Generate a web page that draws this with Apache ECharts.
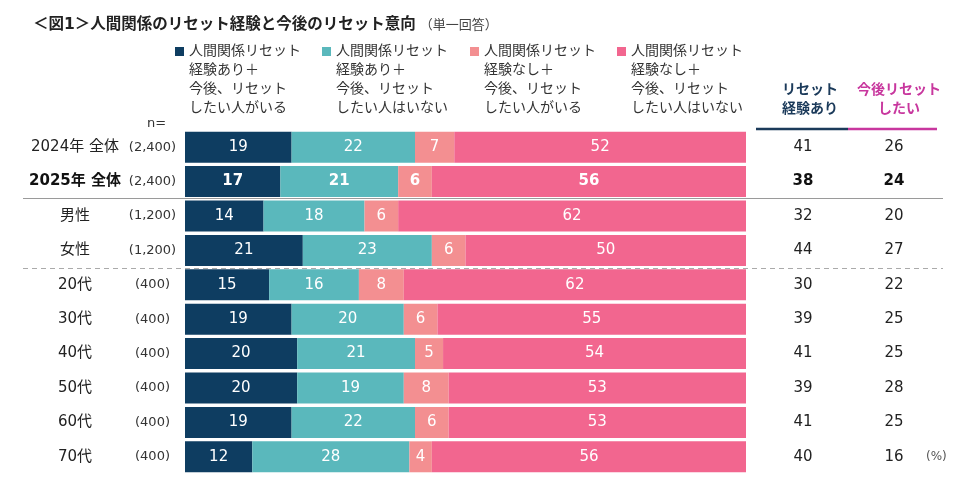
<!DOCTYPE html>
<html><head><meta charset="utf-8">
<script src="https://cdn.jsdelivr.net/npm/echarts@6/dist/echarts.min.js"></script>
<style>html,body{margin:0;padding:0;background:#fff}#c{width:965px;height:484px}</style>
</head><body><div id="c"></div>
<script>
const categories = ['2024年 全体','2025年 全体','男性','女性','20代','30代','40代','50代','60代','70代'];
const sampleSizes = ['(2,400)','(2,400)','(1,200)','(1,200)','(400)','(400)','(400)','(400)','(400)','(400)'];
const seriesNames = ['人間関係リセット\n経験あり＋\n今後、リセット\nしたい人がいる','人間関係リセット\n経験あり＋\n今後、リセット\nしたい人はいない','人間関係リセット\n経験なし＋\n今後、リセット\nしたい人がいる','人間関係リセット\n経験なし＋\n今後、リセット\nしたい人はいない'];
const expYesWant = [19,17,14,21,15,19,20,20,19,12];
const expYesNoWant = [22,21,18,23,16,20,21,19,22,28];
const expNoWant = [7,6,6,6,8,6,5,8,6,4];
const expNoNoWant = [52,56,62,50,62,55,54,53,53,56];
const resetExperienced = [41,38,32,44,30,39,41,39,41,40];
const wantResetFuture = [26,24,20,27,22,25,25,28,25,16];
const boldRowIndex = 1;
const colors = ['#0e3d61','#5ab8bc','#f38f91','#f2668f'];
const FONT = '"DejaVu Sans","Noto Sans CJK JP",sans-serif';

const chart = echarts.init(document.getElementById('c'));
const seriesData = [expYesWant, expYesNoWant, expNoWant, expNoNoWant];

function mkData(arr){
  return arr.map((v,i)=> i===boldRowIndex ? {value:v,label:{fontWeight:'bold'}} : v);
}

const legends = seriesNames.map((n,i)=>({
  data:[{name:n}],
  left:[175,322,470,617][i],
  top:-15,
  padding:0,
  itemWidth:9, itemHeight:9, itemGap:0,
  icon:'rect',
  selectedMode:false,
  formatter: name => '\n\n\n' + name,
  textStyle:{fontFamily:FONT,fontSize:14,lineHeight:19,color:'#333',padding:[0,0,0,0]}
}));

chart.setOption({
  animation:false,
  textStyle:{fontFamily:FONT},
  title:[
    {text:'{b|＜図1＞人間関係のリセット経験と今後のリセット意向}{s|（単一回答）}',left:28,top:12,
     textStyle:{fontWeight:'normal',rich:{b:{fontFamily:FONT,fontSize:15.5,fontWeight:'bold',color:'#222'},s:{fontFamily:FONT,fontSize:13,fontWeight:'normal',color:'#444',padding:[2,0,0,4]}}}},
    {text:'リセット\n経験あり',left:805,top:76,textAlign:'center',
     textStyle:{fontFamily:FONT,fontSize:14,fontWeight:'bold',color:'#1b3a5a',lineHeight:19}},
    {text:'今後リセット\nしたい',left:894,top:76,textAlign:'center',
     textStyle:{fontFamily:FONT,fontSize:14,fontWeight:'bold',color:'#c8379e',lineHeight:19}},
    {text:'n=',left:142,top:112,textStyle:{fontFamily:FONT,fontSize:13,fontWeight:'normal',color:'#333'}}
  ],
  legend: legends,
  grid:{left:185,right:219,top:130,bottom:10},
  xAxis:{type:'value',min:0,max:100,show:false},
  yAxis:[
    {type:'category',data:categories,inverse:true,
     axisLine:{show:false},axisTick:{show:false},
     axisLabel:{margin:5,align:'right',
       formatter:(v,i)=>{
         const b = i===boldRowIndex;
         return '{'+(b?'nb':'n')+'|'+v+'}{s|'+sampleSizes[i]+'}';
       },
       rich:{
         n:{fontFamily:FONT,fontSize:15,color:'#222',width:100,align:'center'},
         nb:{fontFamily:FONT,fontSize:15,fontWeight:'bold',color:'#111',width:100,align:'center'},
         s:{fontFamily:FONT,fontSize:13,color:'#333',width:55,align:'center'}
       }}},
    {type:'category',data:categories,inverse:true,position:'right',
     axisLine:{show:false},axisTick:{show:false},
     axisLabel:{margin:12,align:'left',
       formatter:(v,i)=>{
         const b = i===boldRowIndex;
         let s = '{'+(b?'ab':'a')+'|'+resetExperienced[i]+'}{sp| }{'+(b?'ab':'a')+'2|'+wantResetFuture[i]+'}';
         if(i===categories.length-1) s += '{p|(%)}';
         return s;
       },
       rich:{
         a:{fontFamily:FONT,fontSize:15,color:'#222',width:90,align:'center'},
         ab:{fontFamily:FONT,fontSize:15,fontWeight:'bold',color:'#111',width:90,align:'center'},
         a2:{fontFamily:FONT,fontSize:15,color:'#222',width:60,align:'center'},
         ab2:{fontFamily:FONT,fontSize:15,fontWeight:'bold',color:'#111',width:60,align:'center'},
         sp:{width:16},
         p:{fontFamily:FONT,fontSize:12,color:'#555',padding:[0,0,0,2]}
       }}}
  ],
  series: seriesData.map((arr,k)=>({
    type:'bar',name:seriesNames[k],stack:'total',yAxisIndex:0,
    barCategoryGap:'10%',
    itemStyle:{color:colors[k]},
    label:{show:true,position:'inside',color:'#fff',fontSize:15,fontFamily:FONT},
    data:mkData(arr)
  })),
  graphic:[
    {type:'line',z:-1,shape:{x1:23,y1:198.5,x2:943,y2:198.5},style:{stroke:'#9a9a9a',lineWidth:1.2}},
    {type:'line',z:-1,shape:{x1:23,y1:268.5,x2:943,y2:268.5},style:{stroke:'#aaaaaa',lineWidth:1.2,lineDash:[5,4]}},
    {type:'line',shape:{x1:756,y1:129,x2:848,y2:129},style:{stroke:'#1b3a5a',lineWidth:2.5}},
    {type:'line',shape:{x1:848,y1:129,x2:937,y2:129},style:{stroke:'#c8379e',lineWidth:2.5}}
  ]
});
</script></body></html>
